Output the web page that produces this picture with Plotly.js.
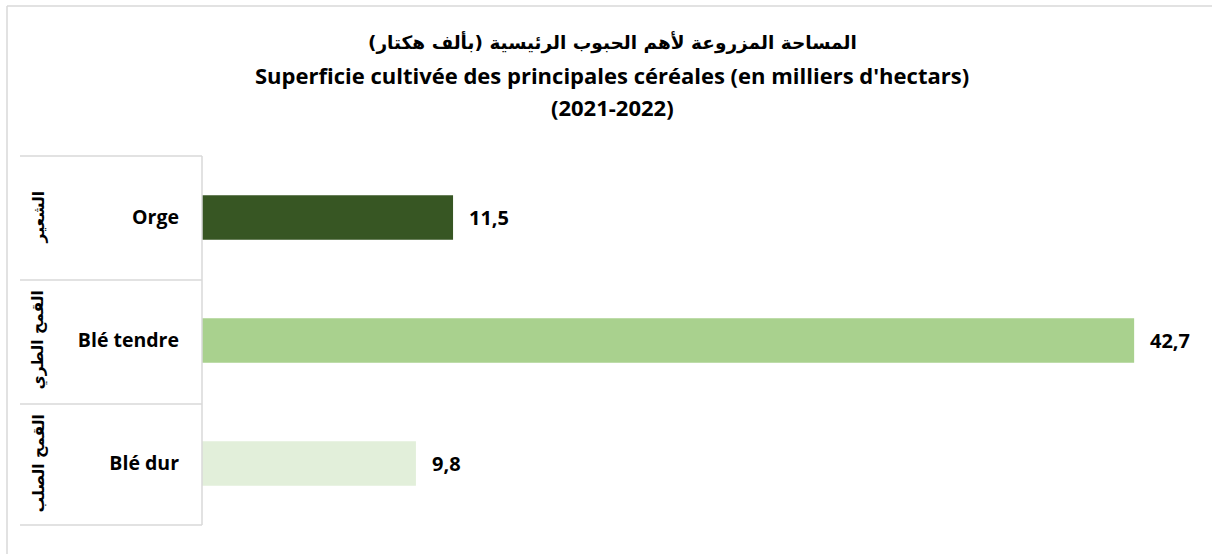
<!DOCTYPE html>
<html><head><meta charset="utf-8">
<script src="https://cdn.plot.ly/plotly-3.0.1.min.js"></script>
<style>html,body{margin:0;padding:0;background:#fff;}#chart{width:1212px;height:554px;}</style>
</head><body><div id="chart"></div>
<script>
// Data
const categories = ['Blé dur', 'Blé tendre', 'Orge'];
const arabicLabels = ['القمح الصلب', 'القمح الطري', 'الشعير'];
const values = [9.8, 42.7, 11.5];
const barColors = ['#e2efda', '#a9d18e', '#375623'];
const titleLines = ['المساحة المزروعة لأهم الحبوب الرئيسية (بألف هكتار)',
  "Superficie cultivée des principales céréales (en milliers d'hectars)",
  '(2021-2022)'];

const W = 1212, H = 554;
const mL = 202, mR = 10, mT = 156, mB = 29;
const plotW = W - mL - mR, plotH = H - mT - mB;
const px = (x) => (x - mL) / plotW;          // pixel -> paper x
const py = (y) => (H - mB - y) / plotH;      // pixel -> paper y
const FONT = "'Open Sans', 'DejaVu Sans', sans-serif";
const AR_FONT = "'DejaVu Sans', sans-serif";
const gridCol = '#d9d9d9';

const trace = {
  type: 'bar', orientation: 'h',
  y: categories, x: values,
  marker: {color: barColors, line: {width: 0}},
  hoverinfo: 'x+y', showlegend: false
};

const annotations = [];
titleLines.forEach((t, i) => {
  annotations.push({xref: 'paper', yref: 'paper', x: px(612), y: py([42, 75, 107][i]),
    text: '<b>' + t + '</b>', showarrow: false, xanchor: 'center', yanchor: 'middle',
    font: {family: i === 0 ? AR_FONT : FONT, size: i === 0 ? 18.5 : 22, color: '#000'}});
});
categories.forEach((c, i) => {
  annotations.push({xref: 'x', yref: 'y', x: values[i], y: c,
    text: '<b>' + values[i].toFixed(1).replace('.', ',') + '</b>', showarrow: false,
    xanchor: 'left', xshift: 14, font: {family: FONT, size: 20, color: '#000'}});
  annotations.push({xref: 'paper', yref: 'y', x: px(38), y: c,
    text: '<b>' + arabicLabels[i] + '</b>', showarrow: false, textangle: -90,
    xanchor: 'center', yanchor: 'middle', font: {family: AR_FONT, size: 15.5, color: '#000'}});
});

const shapes = [];
[156, 280, 404, 525].forEach(y => {
  shapes.push({type: 'line', xref: 'paper', yref: 'paper', x0: px(20), x1: px(202), y0: py(y), y1: py(y),
    line: {color: gridCol, width: 1.5}});
});
shapes.push({type: 'line', xref: 'paper', yref: 'paper', x0: px(202), x1: px(202), y0: py(156), y1: py(525),
  line: {color: gridCol, width: 1.5}});
// chart border
shapes.push({type: 'line', xref: 'paper', yref: 'paper', x0: px(7), x1: px(7), y0: py(6), y1: py(560),
  line: {color: gridCol, width: 1.5}});
shapes.push({type: 'line', xref: 'paper', yref: 'paper', x0: px(7), x1: px(1215), y0: py(6), y1: py(6),
  line: {color: gridCol, width: 1.5}});

const layout = {
  width: W, height: H,
  margin: {l: mL, r: mR, t: mT, b: mB, pad: 0},
  paper_bgcolor: '#fff', plot_bgcolor: '#fff',
  separators: ', ',
  bargap: 0.64,
  xaxis: {range: [0, plotW / 21.83], visible: false, fixedrange: true},
  yaxis: {type: 'category', categoryorder: 'array', categoryarray: categories,
    showline: false, showgrid: false, zeroline: false, ticks: '',
    ticklabelstandoff: 22,
    tickfont: {family: FONT, size: 19.5, color: '#000', weight: 'bold'}},
  annotations: annotations,
  shapes: shapes,
  font: {family: FONT}
};
Plotly.newPlot('chart', [trace], layout, {displayModeBar: false, staticPlot: true});
</script></body></html>
